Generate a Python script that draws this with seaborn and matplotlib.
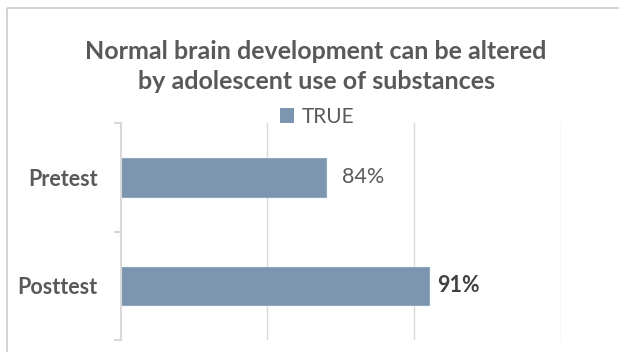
import matplotlib
matplotlib.use("Agg")
import matplotlib.pyplot as plt
import seaborn as sns
import pandas as pd
from matplotlib.patches import Rectangle
from matplotlib.lines import Line2D

# Data
categories = ["Pretest", "Posttest"]
values = [0.84, 0.91]
value_labels = ["84%", "91%"]
series_name = "TRUE"
title = "Normal brain development can be altered\nby adolescent use of substances"

BAR = "#7b96ae"
TEXT = "#595959"
GRID = "#d9d9d9"

sns.set_theme(style="white")
plt.rcParams["font.family"] = ["Lato", "DejaVu Sans"]

W, H = 619, 352
fig = plt.figure(figsize=(W / 100, H / 100), dpi=100, facecolor="white", edgecolor="white")

# outer chart border (left and top edges are inside the canvas)
border = dict(color="#d0d0d0", linewidth=1.3, transform=fig.transFigure,
              solid_capstyle="butt")
fig.lines.append(Line2D([7 / W, 7 / W], [0, 1 - 7.5 / H], **border))
fig.lines.append(Line2D([7 / W, 1], [1 - 7.5 / H, 1 - 7.5 / H], **border))

ax = fig.add_axes([120.7 / W, 12 / H, 440 / W, 216.7 / H])

df = pd.DataFrame({"group": categories, "value": values})
sns.barplot(data=df, y="group", x="value", orient="h", color=BAR,
            width=0.354, saturation=1, edgecolor="#8fa8be", linewidth=0.8, ax=ax)

ax.set_xlim(0.70, 1.00)
ax.set_ylim(1.5, -0.5)
ax.set_xlabel("")
ax.set_ylabel("")

# vertical gridlines at 10% steps
ax.set_xticks([0.8, 0.9, 1.0])
ax.xaxis.grid(True, color=GRID, linewidth=1.0)
ax.set_axisbelow(True)
ax.tick_params(axis="x", length=0, labelbottom=False)

for s in ["top", "right", "bottom"]:
    ax.spines[s].set_visible(False)
ax.spines["left"].set_color(GRID)
ax.spines["left"].set_linewidth(1.5)

# category boundary ticks on the left axis
ax.set_yticks([-0.5, 0.5, 1.5], minor=True)
ax.tick_params(axis="y", which="minor", length=5, width=1.5, color=GRID, left=True)
ax.tick_params(axis="y", which="major", length=0, pad=16.5)
for lbl in ax.get_yticklabels():
    lbl.set_fontsize(15.5)
    lbl.set_fontweight("bold")
    lbl.set_color(TEXT)

# value labels
offsets = [16, 8]
weights = ["normal", "bold"]
colors = [TEXT, "#404040"]
for i, (v, txt) in enumerate(zip(values, value_labels)):
    ax.annotate(txt, xy=(v, i), xytext=(offsets[i], 0), textcoords="offset pixels",
                ha="left", va="center", fontsize=15.5, color=colors[i],
                fontweight=weights[i], annotation_clip=False)

fig.text(316 / W, 1 - 66.5 / H, title, ha="center", va="center", fontsize=18,
         fontweight="bold", color=TEXT, linespacing=1.33)

handle = Rectangle((0, 0), 1, 1, facecolor=BAR, edgecolor="none")
fig.legend([handle], [series_name], loc="center", bbox_to_anchor=(317 / W, 1 - 116.5 / H),
           frameon=False, fontsize=15, handlelength=0.7, handleheight=0.7,
           handletextpad=0.35, labelcolor=TEXT, borderpad=0)

fig.savefig("out.png", dpi=100, facecolor="white", edgecolor="white")
